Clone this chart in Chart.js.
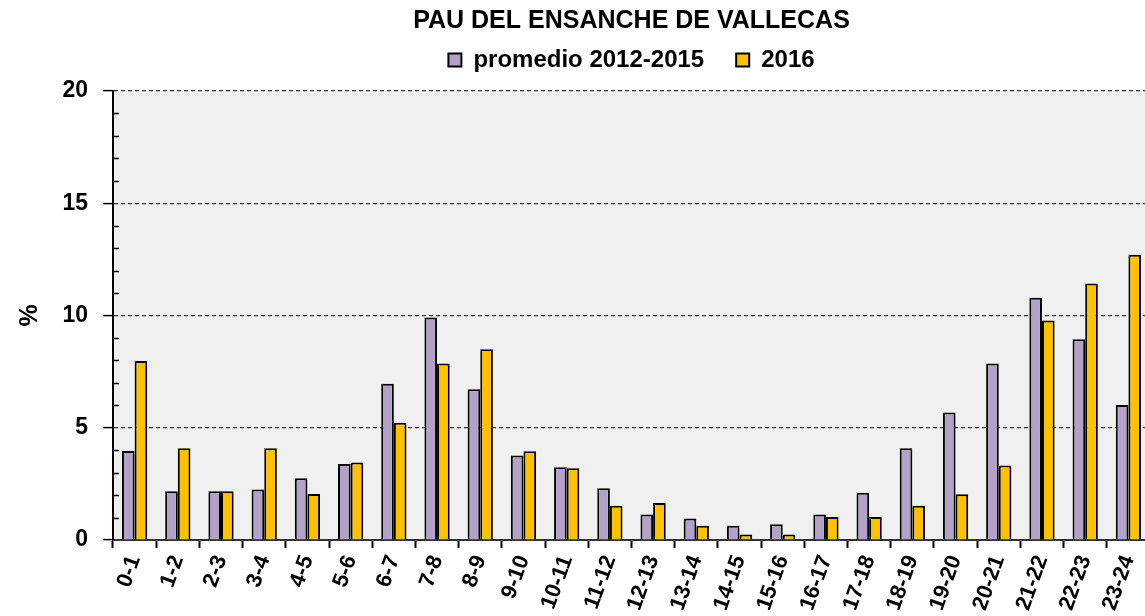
<!DOCTYPE html>
<html>
<head>
<meta charset="utf-8">
<title>PAU DEL ENSANCHE DE VALLECAS</title>
<script src="https://cdn.jsdelivr.net/npm/chart.js@4.4.0/dist/chart.umd.min.js"></script>
<style>
  html, body { margin: 0; padding: 0; background: #fff; overflow: hidden; }
  #wrap { width: 1160px; height: 616px; }
</style>
</head>
<body>
<div id="wrap"><canvas id="grafico" width="1160" height="616"></canvas></div>
<script>
const horas = ['0-1', '1-2', '2-3', '3-4', '4-5', '5-6', '6-7', '7-8', '8-9', '9-10', '10-11', '11-12',
  '12-13', '13-14', '14-15', '15-16', '16-17', '17-18', '18-19', '19-20', '20-21', '21-22', '22-23', '23-24'];
const promedio = [3.96, 2.17, 2.17, 2.25, 2.75, 3.39, 6.96, 9.91, 6.71, 3.76, 3.24, 2.30,
  1.14, 0.96, 0.64, 0.70, 1.14, 2.10, 4.09, 5.68, 7.86, 10.79, 8.94, 6.01];
const anio2016 = [7.97, 4.09, 2.17, 4.09, 2.05, 3.45, 5.22, 7.86, 8.50, 3.95, 3.20, 1.53,
  1.65, 0.64, 0.25, 0.25, 1.03, 1.03, 1.53, 2.04, 3.32, 9.78, 11.43, 12.71];
const marcasY = [0, 5, 10, 15, 20];

Chart.defaults.font.family = '"Liberation Sans", Arial, sans-serif';
Chart.defaults.font.weight = 'bold';
Chart.defaults.color = '#000';

// fondo gris del area de trazado
const fondoPlot = {
  id: 'fondoPlot',
  beforeDraw(chart) {
    const a = chart.chartArea;
    const ctx = chart.ctx;
    ctx.save();
    ctx.fillStyle = '#f0f0f0';
    ctx.fillRect(a.left, a.top, a.right - a.left, a.bottom - a.top);
    ctx.restore();
  }
};

// marcas menores hacia dentro del eje Y
const marcasMenores = {
  id: 'marcasMenores',
  afterDraw(chart) {
    const y = chart.scales.y;
    const ctx = chart.ctx;
    ctx.save();
    ctx.strokeStyle = '#000';
    ctx.lineWidth = 1.5;
    for (let v = 1; v < 20; v++) {
      if (v % 5 === 0) continue;
      const py = Math.round(y.getPixelForValue(v)) + 0.5;
      ctx.beginPath();
      ctx.moveTo(chart.chartArea.left, py);
      ctx.lineTo(chart.chartArea.left + 6, py);
      ctx.stroke();
    }
    ctx.restore();
  }
};

// espacio extra debajo de la leyenda
const margenLeyenda = {
  id: 'margenLeyenda',
  beforeInit(chart) {
    const fitOriginal = chart.legend.fit;
    chart.legend.fit = function () {
      fitOriginal.bind(chart.legend)();
      this.height += 9;
    };
  }
};

const ctx = document.getElementById('grafico').getContext('2d');
window.chart = new Chart(ctx, {
  type: 'bar',
  data: {
    labels: horas,
    datasets: [{
      label: 'promedio 2012-2015',
      data: promedio,
      backgroundColor: '#b3a2c7',
      borderColor: '#000',
      borderWidth: 2,
      categoryPercentage: 0.585,
      barPercentage: 1.0
    }, {
      label: '2016',
      data: anio2016,
      backgroundColor: '#ffc000',
      borderColor: '#000',
      borderWidth: 2,
      categoryPercentage: 0.585,
      barPercentage: 1.0
    }]
  },
  options: {
    responsive: false,
    devicePixelRatio: 1,
    animation: false,
    layout: { padding: { left: 0, right: 10, top: 0, bottom: 0 } },
    plugins: {
      title: {
        display: true,
        text: 'PAU DEL ENSANCHE DE VALLECAS',
        fullSize: false,
        color: '#000',
        font: { size: 25, weight: 'bold' },
        padding: { top: 6, bottom: -20 }
      },
      legend: {
        display: true,
        fullSize: false,
        labels: {
          boxWidth: 13,
          boxHeight: 13,
          padding: 32,
          color: '#000',
          font: { size: 24, weight: 'bold' }
        }
      },
      tooltip: { enabled: false }
    },
    scales: {
      x: {
        afterFit(scale) { scale.height = 76; },
        grid: {
          display: true,
          offset: true,
          drawOnChartArea: false,
          drawTicks: true,
          tickLength: 8,
          tickColor: '#000',
          tickWidth: 2
        },
        border: { display: true, color: '#333', width: 2 },
        ticks: {
          color: '#000',
          font: { size: 22, weight: 'bold' },
          minRotation: 70,
          maxRotation: 70,
          padding: 4,
          autoSkip: false
        }
      },
      y: {
        min: 0,
        max: 20,
        afterFit(scale) { scale.width = 113; },
        title: {
          display: true,
          text: '%',
          color: '#000',
          font: { size: 25, weight: 'bold' },
          padding: { top: 15, bottom: 0 }
        },
        ticks: {
          stepSize: 1,
          autoSkip: false,
          padding: 15,
          color: '#000',
          font: { size: 23, weight: 'bold' },
          callback: v => marcasY.includes(v) ? v : ''
        },
        grid: {
          display: true,
          drawOnChartArea: true,
          drawTicks: true,
          tickLength: 10,
          lineWidth: 1.2,
          color: c => (c.tick && c.tick.value % 5 === 0 && c.tick.value > 0) ? '#333' : 'rgba(0,0,0,0)',
          tickColor: c => (c.tick && c.tick.value % 5 === 0) ? '#000' : 'rgba(0,0,0,0)',
          tickWidth: 1.5
        },
        border: { display: true, color: '#000', width: 2, dash: [4, 3] }
      }
    }
  },
  plugins: [fondoPlot, marcasMenores, margenLeyenda]
});
</script>
</body>
</html>
